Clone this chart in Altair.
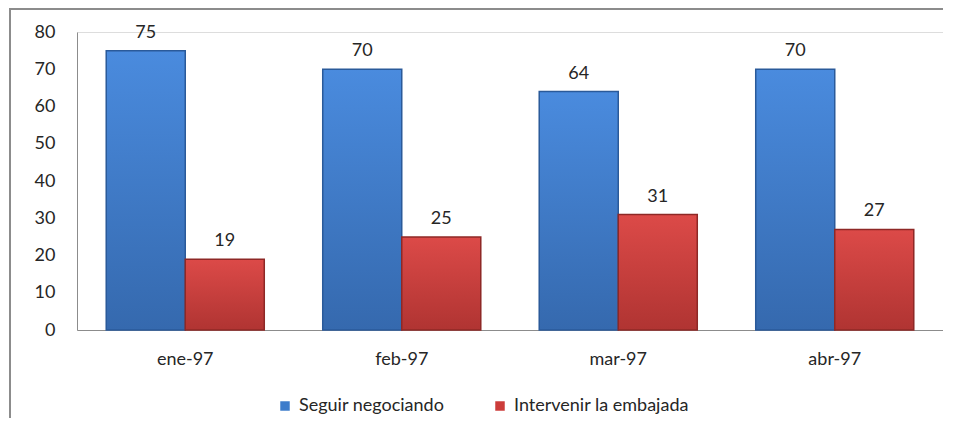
import altair as alt
import pandas as pd

months = ["ene-97", "feb-97", "mar-97", "abr-97"]
series = ["Seguir negociando", "Intervenir la embajada"]
seguir = [75, 70, 64, 70]
intervenir = [19, 25, 31, 27]
colors = ["#3D7CCB", "#CC3C3A"]
tops = ["#4A8BDE", "#DC4A48"]
bottoms = ["#3569AE", "#B03432"]
strokes = ["#2A5A9A", "#8E2826"]

rows = []
for i, m in enumerate(months):
    rows.append({"mes": m, "serie": series[0], "valor": seguir[i]})
    rows.append({"mes": m, "serie": series[1], "valor": intervenir[i]})
df = pd.DataFrame(rows)

FONT = "Lato"
FS = 18
TXT = "#262626"

x = alt.X("mes:N", sort=months, title=None,
          scale=alt.Scale(paddingInner=0.27, paddingOuter=0.135),
          axis=alt.Axis(labelAngle=0, ticks=False, domainColor="#8C8C8C",
                        labelPadding=20, labelFontSize=FS, labelColor=TXT,
                        labelFont=FONT))
xoff = alt.XOffset("serie:N", sort=series, scale=alt.Scale(domain=series, paddingInner=0, paddingOuter=0))
y = alt.Y("valor:Q", title=None,
          scale=alt.Scale(domain=[0, 80], nice=False),
          axis=alt.Axis(values=list(range(0, 81, 10)), grid=False, ticks=False,
                        domainColor="#8C8C8C", labelPadding=22, labelFontSize=FS,
                        labelColor=TXT, labelFont=FONT))

base_bars = alt.Chart(df).mark_bar().encode(
    x=x, xOffset=xoff, y=y,
    color=alt.Color("serie:N", sort=series,
                    scale=alt.Scale(domain=series, range=colors),
                    legend=alt.Legend(title=None, orient="none", direction="horizontal",
                                      legendX=199, legendY=365, symbolType="square",
                                      symbolSize=90, symbolStrokeWidth=0,
                                      labelFontSize=FS, labelFont=FONT, labelLimit=0,
                                      labelColor=TXT, columnPadding=46,
                                      labelOffset=5)),
)

overlays = []
for s, t, b, st in zip(series, tops, bottoms, strokes):
    grad = alt.Gradient(gradient="linear", x1=0, x2=0, y1=0, y2=1,
                        stops=[alt.GradientStop(color=t, offset=0),
                               alt.GradientStop(color=b, offset=1)])
    overlays.append(
        alt.Chart(df).transform_filter(alt.datum.serie == s)
        .mark_bar(color=grad, stroke=st, strokeWidth=1.5)
        .encode(x=x, xOffset=xoff, y=y)
    )

labels = alt.Chart(df).mark_text(dy=-18, fontSize=FS, font=FONT, color=TXT).encode(
    x=x, xOffset=xoff, y=y, text=alt.Text("valor:Q"))

frame_top = alt.Chart(df).mark_rule(stroke="#8C8C8C", strokeWidth=2).encode(
    x=alt.value(-67), x2=alt.value(866), y=alt.value(-23))
frame_left = alt.Chart(df).mark_rule(stroke="#8C8C8C", strokeWidth=2).encode(
    x=alt.value(-67), y=alt.value(-24), y2=alt.value(386))

chart = alt.layer(frame_top, frame_left, base_bars, *overlays, labels).properties(
    width=866, height=298,
    autosize=alt.AutoSizeParams(type="none"),
    padding={"left": 69, "top": 24, "right": 0, "bottom": 88},
).configure_view(stroke="transparent").configure(background="white")

chart.save("out.html", embed_options={"renderer": "svg", "actions": False})
